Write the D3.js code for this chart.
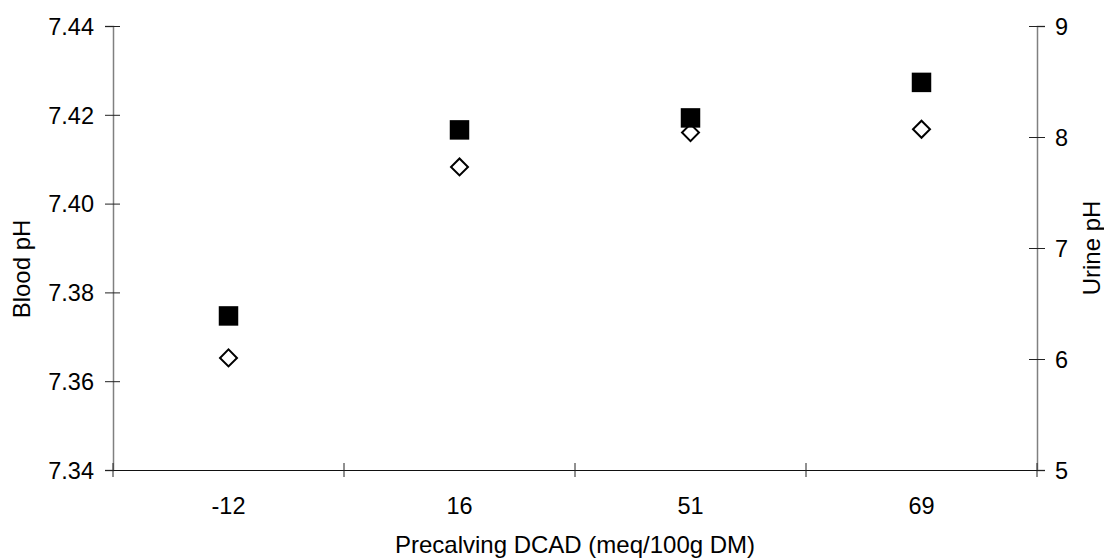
<!DOCTYPE html>
<html>
<head>
<meta charset="utf-8">
<script src="https://cdn.jsdelivr.net/npm/d3@7"></script>
<style>
    body { margin: 0; background: white; }
    text { font-family: "Liberation Sans", Arial, sans-serif; fill: black; }
</style>
</head>
<body>
<div id="chart"></div>
<script>
var categories = ['-12', '16', '51', '69']
var bloodPH = [7.3747, 7.4166, 7.4193, 7.4273]
var urinePH = [6.01, 7.73, 8.04, 8.07]
var leftTicks = [7.34, 7.36, 7.38, 7.40, 7.42, 7.44]
var rightTicks = [5, 6, 7, 8, 9]

var layout = { width: 1104, height: 558, left: 113, right: 1037, top: 26, bottom: 470 }

var svg = d3.select('#chart').append('svg')
    .attr('width', layout.width)
    .attr('height', layout.height)

svg.append('rect')
    .attr('width', '100%')
    .attr('height', '100%')
    .attr('fill', 'white')

var x = d3.scaleBand().domain(categories).range([layout.left, layout.right]).padding(0)
var yLeft = d3.scaleLinear().domain([7.34, 7.44]).range([layout.bottom, layout.top])
var yRight = d3.scaleLinear().domain([5, 9]).range([layout.bottom, layout.top])

// left axis, ticks cross the line
var leftAxis = svg.append('g')
    .attr('transform', 'translate(' + layout.left + ',0)')
    .call(d3.axisLeft(yLeft).tickValues(leftTicks).tickFormat(d3.format('.2f')).tickSize(8).tickPadding(11))
leftAxis.select('.domain').attr('stroke', '#808080').attr('stroke-width', 1.5)
leftAxis.selectAll('.tick line').attr('x1', 7).attr('stroke', '#222')
leftAxis.selectAll('.tick text').style('font-size', '23.5px').attr('dy', '0.35em')

var rightAxis = svg.append('g')
    .attr('transform', 'translate(' + layout.right + ',0)')
    .call(d3.axisRight(yRight).tickValues(rightTicks).tickFormat(d3.format('d')).tickSize(8).tickPadding(10))
rightAxis.select('.domain').attr('stroke', '#808080').attr('stroke-width', 1.5)
rightAxis.selectAll('.tick line').attr('x1', -8).attr('stroke', '#222')
rightAxis.selectAll('.tick text').style('font-size', '23.5px').attr('dy', '0.35em')

// bottom axis: labels centred on bands, ticks at band edges
var bottomAxis = svg.append('g')
    .attr('transform', 'translate(0,' + layout.bottom + ')')
    .call(d3.axisBottom(x).tickSize(0).tickPadding(27))
bottomAxis.select('.domain').attr('stroke', '#111').attr('stroke-width', 1)
bottomAxis.selectAll('.tick text').style('font-size', '23.5px')

var edges = categories.map(function (c) { return x(c) }).concat([x.range()[1]])
svg.append('g').selectAll('line')
    .data(edges)
    .enter().append('line')
    .attr('x1', function (d) { return d })
    .attr('x2', function (d) { return d })
    .attr('y1', layout.bottom - 7)
    .attr('y2', layout.bottom + 7)
    .attr('stroke', '#222')

// axis titles
svg.append('text')
    .attr('x', (layout.left + layout.right) / 2)
    .attr('y', 553)
    .attr('text-anchor', 'middle')
    .style('font-size', '24px')
    .text('Precalving DCAD (meq/100g DM)')

svg.append('text')
    .attr('transform', 'translate(30,269) rotate(-90)')
    .attr('text-anchor', 'middle')
    .style('font-size', '24px')
    .text('Blood pH')

svg.append('text')
    .attr('transform', 'translate(1100,248) rotate(-90)')
    .attr('text-anchor', 'middle')
    .style('font-size', '24px')
    .text('Urine pH')

// urine pH: open diamonds (drawn first, squares sit on top)
svg.append('g').selectAll('path')
    .data(urinePH)
    .enter().append('path')
    .attr('d', d3.symbol().type(d3.symbolSquare).size(144))
    .attr('transform', function (d, i) {
        return 'translate(' + (x(categories[i]) + x.bandwidth() / 2) + ',' + yRight(d) + ') rotate(45)'
    })
    .attr('fill', 'white')
    .attr('stroke', 'black')
    .attr('stroke-width', 2)

// blood pH: filled squares
svg.append('g').selectAll('path')
    .data(bloodPH)
    .enter().append('path')
    .attr('d', d3.symbol().type(d3.symbolSquare).size(380))
    .attr('transform', function (d, i) {
        return 'translate(' + (x(categories[i]) + x.bandwidth() / 2) + ',' + yLeft(d) + ')'
    })
    .attr('fill', 'black')
</script>
</body>
</html>
